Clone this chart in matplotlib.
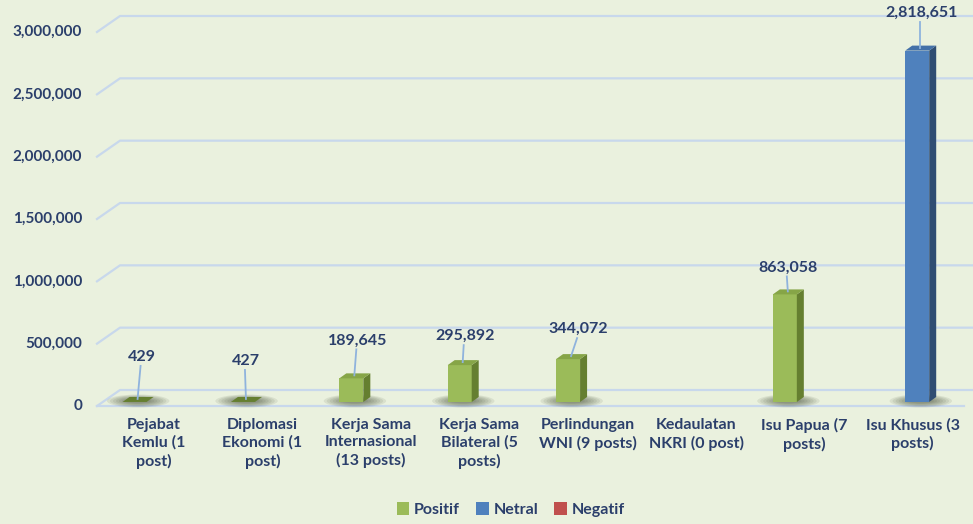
import matplotlib.pyplot as plt
from matplotlib.patches import Polygon, Ellipse, Patch

# category labels and post views per sentiment
categories = ['Pejabat\nKemlu (1\npost)', 'Diplomasi\nEkonomi (1\npost)',
              'Kerja Sama\nInternasional\n(13 posts)', 'Kerja Sama\nBilateral (5\nposts)',
              'Perlindungan\nWNI (9 posts)', 'Kedaulatan\nNKRI (0 post)',
              'Isu Papua (7\nposts)', 'Isu Khusus (3\nposts)']
positif = [429, 427, 189645, 295892, 344072, 0, 863058, 0]
netral = [0, 0, 0, 0, 0, 0, 0, 2818651]
negatif = [0, 0, 0, 0, 0, 0, 0, 0]
yticks = [0, 500000, 1000000, 1500000, 2000000, 2500000, 3000000]

bg = '#EAF1DE'
txt = '#2B3F6B'
grid = '#C8D8EC'
series = [
    ('Positif', positif, ('#9BBB59', '#657F30', '#86A547')),
    ('Netral', netral, ('#4F81BD', '#2F4D73', '#4471A8')),
    ('Negatif', negatif, ('#C0504D', '#8A2E2C', '#A84441')),
]

fig = plt.figure(figsize=(9.73, 5.24), dpi=100)
fig.patch.set_facecolor(bg)
ax = fig.add_axes([97 / 973, 1 - 406 / 524, 867 / 973, 374 / 524])
ax.set_xlim(-0.5, 7.5)
ax.set_ylim(0, 3e6)
ax.axis('off')

px = 8 / 867          # one pixel in x data units
py = 3e6 / 374        # one pixel in y data units
plt.rcParams['font.family'] = ['Lato', 'DejaVu Sans']

# back wall gridlines with their slanted left edge
wdx, wdy = 23 * px, 16 * py
for v in yticks:
    ax.plot([-0.5, -0.5 + wdx, 7.5 + 9 * px], [v, v + wdy, v + wdy],
            color=grid, lw=1.6, clip_on=False, zorder=1)
    ax.text(-0.5 - 15 * px, v, f'{v:,}', ha='right', va='center',
            fontsize=11, color=txt, fontweight='bold')
# floor front edge
ax.plot([-0.5, 7.5], [0, 0], color=grid, lw=1.6, clip_on=False, zorder=1)

bw = 24 * px
ddx, ddy = 7 * px, 5 * py
base = 4 * py
slot0 = -0.264

for k, (name, vals, (front, side, top)) in enumerate(series):
    for i, v in enumerate(vals):
        if v <= 0:
            continue
        x0 = i + slot0 + k * bw
        y0, y1 = base, base + v
        # soft shadow on the floor
        for s in range(7):
            ax.add_patch(Ellipse((x0 + bw * 0.65, y0 + 1 * py), bw * (2.6 - s * 0.25),
                                 (13 - s * 1.4) * py, color='#2E3A22', alpha=0.09,
                                 lw=0, zorder=2, clip_on=False))
        ax.add_patch(Polygon([(x0, y0), (x0 + bw, y0), (x0 + bw, y1), (x0, y1)],
                             closed=True, fc=front, ec='none', zorder=3, clip_on=False))
        ax.add_patch(Polygon([(x0 + bw, y0), (x0 + bw + ddx, y0 + ddy),
                              (x0 + bw + ddx, y1 + ddy), (x0 + bw, y1)],
                             closed=True, fc=side, ec='none', zorder=3, clip_on=False))
        tc = top if v > 10000 else side
        ax.add_patch(Polygon([(x0, y1), (x0 + bw, y1), (x0 + bw + ddx, y1 + ddy),
                              (x0 + ddx, y1 + ddy)],
                             closed=True, fc=tc, ec='none', zorder=3, clip_on=False))

# data labels with leader lines
label_gap = [42, 38, 35, 26, 27, 0, 24, 35]
label_dx = [4, 0, 3, 2, 7, 0, 0, 1]
for i in range(len(categories)):
    for k, (name, vals, _) in enumerate(series):
        v = vals[i]
        if v <= 0:
            continue
        cx = i + slot0 + k * bw + bw / 2 + 3 * px
        ty = base + v + 3 * py
        ly = ty + label_gap[i] * py
        lx = cx + label_dx[i] * px
        ax.text(lx, ly, f'{v:,}', ha='center', va='center', fontsize=11.5,
                color=txt, fontweight='bold', zorder=5)
        ax.plot([lx - 1 * px, cx], [ly - 9 * py, ty], color='#8FB3DD', lw=1.3,
                zorder=4, clip_on=False)

# category labels
for i, c in enumerate(categories):
    ax.text(i + 3 * px, -12 * py, c, ha='center', va='top', fontsize=11.5,
            color=txt, fontweight='bold', linespacing=1.3)

handles = [Patch(fc=s[2][0], ec='none', label=s[0]) for s in series]
fig.legend(handles=handles, loc='lower center', bbox_to_anchor=(0.525, -0.014), ncol=3,
           frameon=False, handlelength=0.8, handleheight=0.8, handletextpad=0.3,
           columnspacing=1.0, labelcolor=txt, prop={'size': 11.5, 'weight': 'bold'})

fig.savefig('out.png', dpi=100, facecolor=bg)
